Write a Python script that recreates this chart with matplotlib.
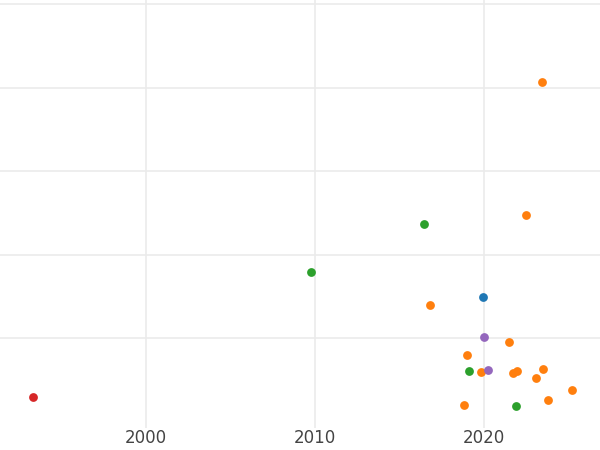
import matplotlib
matplotlib.use("Agg")
import matplotlib.pyplot as plt

# values (y units arbitrary, grid at 1..5)
years_orange = [2023.43, 2022.48, 2016.80, 2021.48, 2019.0, 2019.82, 2021.72,
                2021.95, 2023.49, 2023.08, 2025.21, 2023.79, 2018.82]
vals_orange = [4.07, 2.48, 1.40, 0.95, 0.80, 0.60, 0.58, 0.61, 0.63, 0.52,
               0.38, 0.26, 0.20]
years_green = [2016.45, 2009.76, 2019.11, 2021.89]
vals_green = [2.37, 1.79, 0.61, 0.19]
years_blue = [2019.94]
vals_blue = [1.49]
years_purple = [2020.0, 2020.24]
vals_purple = [1.01, 0.62]
years_red = [1993.31]
vals_red = [0.30]

series = [
    (years_blue, vals_blue, "#1f77b4"),
    (years_orange, vals_orange, "#ff7f0e"),
    (years_green, vals_green, "#2ca02c"),
    (years_red, vals_red, "#d62728"),
    (years_purple, vals_purple, "#9467bd"),
]

fig = plt.figure(figsize=(6, 4.5), dpi=100)
ax = fig.add_axes([0, 0.05, 1, 0.95])
for xs, ys, c in series:
    ax.scatter(xs, ys, s=40, color=c, zorder=3, linewidths=0)

ax.set_xlim(1991.36, 2026.86)
ax.set_ylim(-0.07, 5.05)
ax.set_xticks([2000, 2010, 2020])
ax.set_yticks([1, 2, 3, 4, 5])
ax.set_yticklabels([])
ax.grid(True, color="#ebebeb", linewidth=1.2, zorder=0)
ax.tick_params(length=0, labelsize=12, colors="#444444", pad=1)
for s in ax.spines.values():
    s.set_visible(False)

fig.savefig("out.png", dpi=100)
